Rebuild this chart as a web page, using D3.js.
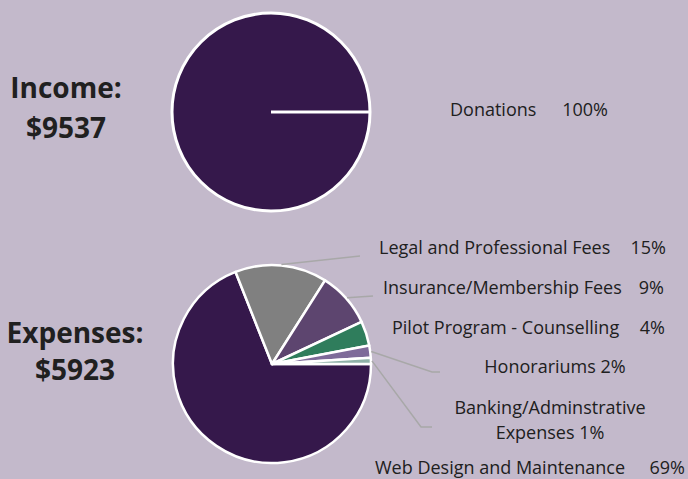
<!DOCTYPE html>
<html><head><meta charset="utf-8">
<script src="https://cdn.jsdelivr.net/npm/d3@7"></script>
<style>
html,body{margin:0;padding:0;background:#C3B9CB;}
svg{display:block;}
</style></head>
<body>
<svg id="chart" width="688" height="479"></svg>
<script>
// ---- data ----
const incomeCategories = ["Donations"];
const incomeValues = [100];
const incomeLabels = ["100%"];
const incomeTotal = "$9537";

const expenseCategories = ["Web Design and Maintenance", "Legal and Professional Fees", "Insurance/Membership Fees", "Pilot Program - Counselling", "Honorariums", "Banking/Adminstrative Expenses"];
const expenseValues = [69, 15, 9, 4, 2, 1];
const expenseLabels = ["69%", "15%", "9%", "4%", "2%", "1%"];
const expenseTotal = "$5923";

// ---- drawing ----
const svg = d3.select("#chart");
const bg = "#C3B9CB";
svg.append("rect").attr("width", 688).attr("height", 479).attr("fill", bg);

const colors = d3.scaleOrdinal()
  .domain(expenseCategories)
  .range(["#35184B", "#808080", "#5D456F", "#2F7D5C", "#7E6A99", "#8FB2A8"]);

const R = 99;
const pie = d3.pie().sort(null).value(d => d.v).startAngle(Math.PI / 2).endAngle(Math.PI / 2 + 2 * Math.PI);
const arc = d3.arc().innerRadius(0).outerRadius(R);
const font = "'Open Sans', sans-serif";
const txt = "#202020";

function pt(angle, r) { return [Math.sin(angle) * r, -Math.cos(angle) * r]; }

// Income pie
const gi = svg.append("g").attr("transform", "translate(271,112)");
const incArcs = pie(incomeValues.map((v, i) => ({ v, c: incomeCategories[i] })));
gi.selectAll("path").data(incArcs).join("path")
  .attr("d", arc).attr("fill", "#35184B").attr("stroke", "#fff").attr("stroke-width", 3);
incArcs.forEach(a => {
  const p = pt(a.startAngle, R);
  gi.append("line").attr("x1", 0).attr("y1", 0).attr("x2", p[0]).attr("y2", p[1])
    .attr("stroke", "#fff").attr("stroke-width", 3);
});

// Expense pie
const ge = svg.append("g").attr("transform", "translate(272,364)");
const expArcs = pie(expenseValues.map((v, i) => ({ v, c: expenseCategories[i] })));
ge.selectAll("path").data(expArcs).join("path")
  .attr("d", arc).attr("fill", d => colors(d.data.c))
  .attr("stroke", "#fff").attr("stroke-width", 2.5).attr("stroke-linejoin", "round");

// leader lines (start at slice mid-angle on the rim)
const leaderTargets = {
  "Legal and Professional Fees": [[360, 256]],
  "Insurance/Membership Fees": [[373, 296]],
  "Honorariums": [[432, 372], [440, 372]],
  "Banking/Adminstrative Expenses": [[421, 427], [432, 427]]
};
expArcs.forEach(a => {
  const t = leaderTargets[a.data.c];
  if (!t) return;
  const mid = (a.startAngle + a.endAngle) / 2;
  const p = pt(mid, R + 1);
  const pts = [[272 + p[0], 364 + p[1]], ...t];
  svg.append("path").attr("d", d3.line()(pts)).attr("fill", "none")
    .attr("stroke", "#A8A8A8").attr("stroke-width", 1.5);
});

// labels
function label(x, y, s, anchor, size, weight) {
  svg.append("text").attr("x", x).attr("y", y).attr("dy", "0.35em")
    .attr("text-anchor", anchor || "start")
    .attr("font-family", font).attr("font-size", size || 18)
    .attr("font-weight", weight || "normal").attr("fill", txt).text(s);
}
// income
label(450, 110, incomeCategories[0], "start");
label(608, 110, incomeLabels[0], "end");
// expenses
label(379, 248, expenseCategories[1], "start");
label(666, 248, expenseLabels[1], "end");
label(383, 288, expenseCategories[2], "start");
label(664, 288, expenseLabels[2], "end");
label(392, 328, expenseCategories[3], "start");
label(665, 328, expenseLabels[3], "end");
label(555, 367, expenseCategories[4] + " " + expenseLabels[4], "middle");
const bankParts = expenseCategories[5].split(" ");
label(550, 408, bankParts[0], "middle");
label(550, 433, bankParts[1] + " " + expenseLabels[5], "middle");
label(375, 468, expenseCategories[0], "start");
label(685, 468, expenseLabels[0], "end");

// totals
label(66, 88, "Income:", "middle", 28, "bold");
label(66, 128, incomeTotal, "middle", 28, "bold");
label(75, 333, "Expenses:", "middle", 28, "bold");
label(75, 370, expenseTotal, "middle", 28, "bold");
</script>
</body></html>
